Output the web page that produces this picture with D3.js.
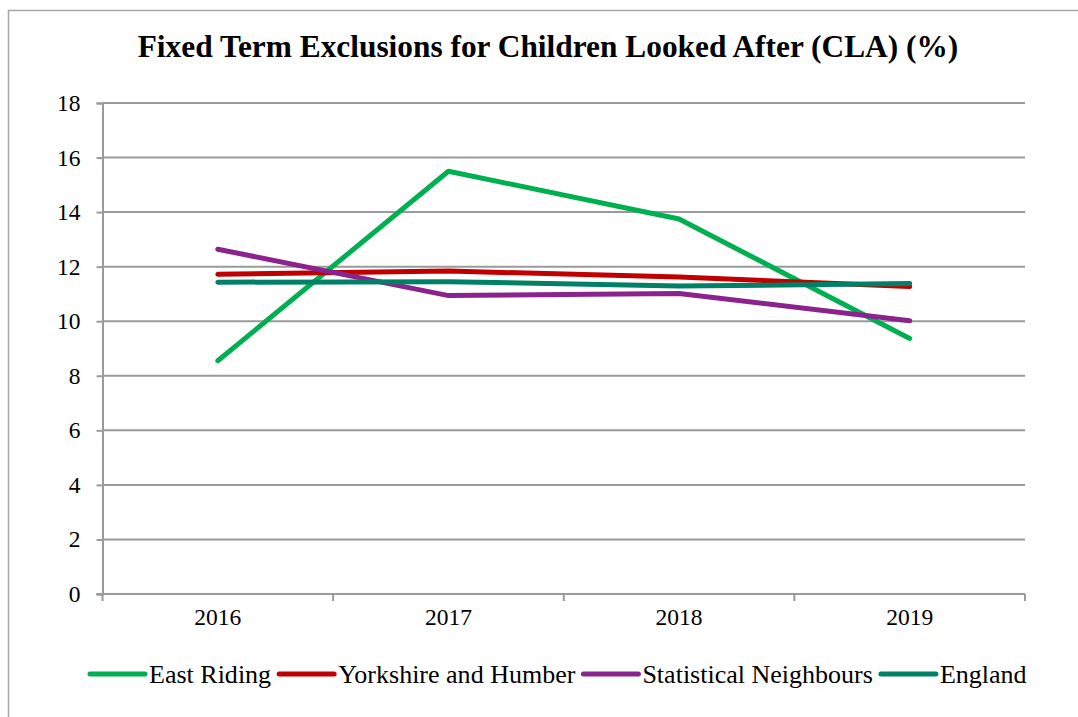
<!DOCTYPE html>
<html>
<head>
<meta charset="utf-8">
<script src="https://cdn.jsdelivr.net/npm/d3@7"></script>
<style>
  html, body { margin: 0; padding: 0; background: #fff; }
  svg { display: block; }
</style>
</head>
<body>
<svg id="chart" width="1078" height="717"></svg>
<script>
// Fixed term exclusion rates (%) for children looked after, 2016–2019
const years = ["2016", "2017", "2018", "2019"];
const seriesNames = ["East Riding", "Yorkshire and Humber", "Statistical Neighbours", "England"];
const eastRiding = [8.55, 15.5, 13.75, 9.37];
const yorkshireHumber = [11.72, 11.84, 11.62, 11.27];
const statNeighbours = [12.64, 10.94, 11.02, 10.02];
const england = [11.43, 11.45, 11.29, 11.38];
const yTicks = [0, 2, 4, 6, 8, 10, 12, 14, 16, 18];
const seriesColors = ["#00b050", "#c00000", "#8b238f", "#008066"];

const seriesValues = [eastRiding, yorkshireHumber, statNeighbours, england];
const series = seriesNames.map((name, i) => ({ name, color: seriesColors[i], values: seriesValues[i] }));

const svg = d3.select("#chart");
const serif = "'Liberation Serif', 'DejaVu Serif', 'Noto Serif', Tinos, 'Times New Roman', Times, 'Nimbus Roman', FreeSerif, Georgia, serif";
const gray = "#9a9a9a";

// Font size that makes `str` span `target` pixels in the given weight
function fitSize(str, target, weight) {
  const probe = svg.append("text")
    .style("font-family", serif)
    .style("font-weight", weight || "normal")
    .style("font-size", "40px")
    .text(str);
  const w = probe.node().getComputedTextLength();
  probe.remove();
  return 40 * target / w;
}

const tickSize = fitSize("2016", 47);

const plot = { left: 102.5, right: 1025, top: 103, bottom: 594 };

// Chart frame
svg.append("path")
  .attr("d", "M8.5,730 L8.5,10.5 L1090,10.5")
  .attr("fill", "none")
  .attr("stroke", "#a6a6a6")
  .attr("stroke-width", 1.5);

// Title
svg.append("text")
  .attr("x", 548)
  .attr("y", 57)
  .attr("text-anchor", "middle")
  .style("font-family", serif)
  .style("font-weight", "bold")
  .style("font-size", fitSize("Fixed Term Exclusions for Children Looked After (CLA) (%)", 821, "bold") + "px")
  .attr("fill", "#000")
  .text("Fixed Term Exclusions for Children Looked After (CLA) (%)");

const x = d3.scaleBand().domain(years).range([plot.left, plot.right]).paddingInner(0).paddingOuter(0);
const y = d3.scaleLinear().domain([0, 18]).range([plot.bottom, plot.top]);

// Horizontal gridlines
svg.append("g")
  .selectAll("line")
  .data(yTicks.filter(t => t > 0))
  .join("line")
  .attr("x1", plot.left)
  .attr("x2", plot.right)
  .attr("y1", d => y(d))
  .attr("y2", d => y(d))
  .attr("stroke", gray)
  .attr("stroke-width", 2);

// Y axis
const yAxis = svg.append("g")
  .attr("transform", `translate(${plot.left},0)`)
  .call(d3.axisLeft(y).tickValues(yTicks).tickSize(6).tickPadding(16).tickFormat(d3.format("d")));
yAxis.select(".domain").attr("stroke", gray).attr("stroke-width", 2);
yAxis.selectAll(".tick line").attr("stroke", gray).attr("stroke-width", 2);
yAxis.selectAll(".tick text")
  .style("font-family", serif)
  .style("font-size", tickSize + "px")
  .attr("fill", "#000");

// X axis: labels centred in each category, tick marks on category boundaries
const xAxis = svg.append("g")
  .attr("transform", `translate(0,${plot.bottom})`)
  .call(d3.axisBottom(x).tickSize(0).tickPadding(14));
xAxis.select(".domain").remove();
xAxis.selectAll(".tick text")
  .style("font-family", serif)
  .style("font-size", tickSize + "px")
  .attr("fill", "#000");

const boundaries = years.map(d => x(d)).concat([x(years[years.length - 1]) + x.bandwidth()]);
svg.append("g")
  .selectAll("line")
  .data(boundaries)
  .join("line")
  .attr("x1", d => d)
  .attr("x2", d => d)
  .attr("y1", plot.bottom)
  .attr("y2", plot.bottom + 7)
  .attr("stroke", gray)
  .attr("stroke-width", 2);
svg.append("line")
  .attr("x1", plot.left - 6)
  .attr("x2", plot.right)
  .attr("y1", plot.bottom)
  .attr("y2", plot.bottom)
  .attr("stroke", gray)
  .attr("stroke-width", 2);

// Series lines
const line = d3.line()
  .x((d, i) => x(years[i]) + x.bandwidth() / 2)
  .y(d => y(d));

svg.append("g")
  .selectAll("path")
  .data(series)
  .join("path")
  .attr("d", d => line(d.values))
  .attr("fill", "none")
  .attr("stroke", d => d.color)
  .attr("stroke-width", 5)
  .attr("stroke-linecap", "round")
  .attr("stroke-linejoin", "round");

// Legend: text sized so the whole row spans from x=90 to x=1027
const legendLeft = 90, legendRight = 1027;
const sampleLen = 55, sampleGap = 4, itemGap = 8, legendY = 674;
const fixedPart = series.length * (sampleLen + sampleGap) + (series.length - 1) * itemGap;
const legendSize = fitSize(seriesNames.join(""), legendRight - legendLeft - fixedPart);

const items = svg.append("g").selectAll("g")
  .data(series)
  .join("g");
items.append("line")
  .attr("x1", 0).attr("x2", sampleLen)
  .attr("y1", 0).attr("y2", 0)
  .attr("stroke", d => d.color)
  .attr("stroke-width", 5)
  .attr("stroke-linecap", "round");
const labels = items.append("text")
  .attr("x", sampleLen + sampleGap)
  .attr("y", 0)
  .attr("dy", "0.34em")
  .style("font-family", serif)
  .style("font-size", legendSize + "px")
  .attr("fill", "#000")
  .text(d => d.name);

const widths = labels.nodes().map(n => n.getComputedTextLength());
let cursor = legendLeft;
items.each(function (d, i) {
  d3.select(this).attr("transform", `translate(${cursor},${legendY})`);
  cursor += sampleLen + sampleGap + widths[i] + itemGap;
});
</script>
</body>
</html>
